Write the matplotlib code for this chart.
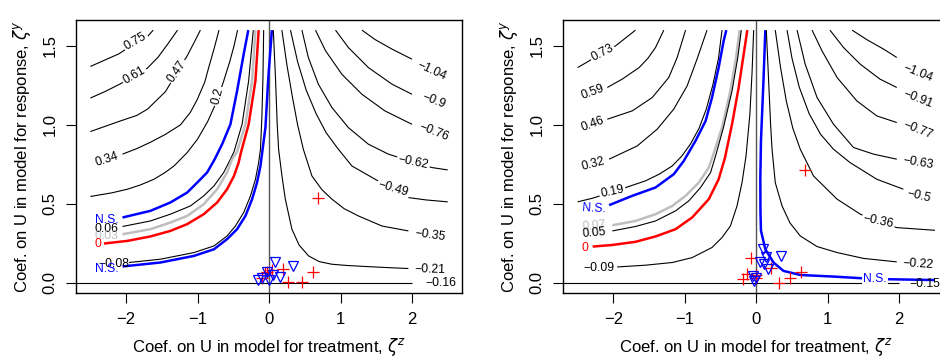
import numpy as np
import matplotlib
matplotlib.use("Agg")
import matplotlib.pyplot as plt

plt.rcParams['font.family'] = ['Liberation Sans', 'DejaVu Sans']

# ---------------- left panel contours (zeta_z, zeta_y) ----------------
L_p075_x = [-2.50, -2.30, -2.10, -1.90, -1.70, -1.62]
L_p075_y = [1.37, 1.41, 1.45, 1.51, 1.56, 1.60]
L_p061_x = [-2.50, -2.30, -2.08, -1.89, -1.70, -1.55, -1.42, -1.28]
L_p061_y = [1.17, 1.21, 1.26, 1.31, 1.36, 1.43, 1.51, 1.60]
L_p047_x = [-2.50, -2.30, -2.08, -1.85, -1.70, -1.45, -1.29, -1.145, -1.05, -0.96]
L_p047_y = [0.958, 0.99, 1.025, 1.06, 1.10, 1.21, 1.33, 1.437, 1.52, 1.60]
L_p034_x = [-2.05, -1.85, -1.66, -1.45, -1.24, -1.10, -1.005, -0.90, -0.84, -0.77, -0.70]
L_p034_y = [0.815, 0.85, 0.89, 0.94, 1.00, 1.08, 1.16, 1.27, 1.37, 1.48, 1.60]
L_p020_x = [-2.50, -2.20, -1.98, -1.80, -1.61, -1.45, -1.33, -1.145, -1.00, -0.86, -0.74, -0.64, -0.55, -0.49, -0.44]
L_p020_y = [0.547, 0.57, 0.593, 0.62, 0.656, 0.70, 0.74, 0.825, 0.91, 1.02, 1.14, 1.27, 1.40, 1.50, 1.60]
L_ns1_x = [-2.05, -1.66, -1.38, -1.145, -1.005, -0.866, -0.76, -0.656, -0.54, -0.447, -0.355, -0.29]
L_ns1_y = [0.414, 0.456, 0.509, 0.572, 0.635, 0.699, 0.783, 0.878, 1.004, 1.215, 1.447, 1.60]
L_p006_x = [-2.05, -1.66, -1.38, -1.10, -0.913, -0.77, -0.634, -0.54, -0.49, -0.377, -0.285, -0.22]
L_p006_y = [0.357, 0.392, 0.435, 0.487, 0.551, 0.614, 0.699, 0.783, 0.83, 1.004, 1.28, 1.60]
L_p003_x = [-2.05, -1.66, -1.38, -1.145, -0.913, -0.726, -0.587, -0.517, -0.447, -0.33, -0.237, -0.19]
L_p003_y = [0.308, 0.34, 0.382, 0.424, 0.498, 0.593, 0.699, 0.783, 0.83, 1.004, 1.28, 1.60]
L_zero_x = [-2.31, -1.98, -1.66, -1.38, -1.145, -0.913, -0.726, -0.587, -0.49, -0.425, -0.39, -0.285, -0.19, -0.145]
L_zero_y = [0.249, 0.266, 0.294, 0.329, 0.372, 0.435, 0.509, 0.593, 0.677, 0.762, 0.83, 1.004, 1.28, 1.60]
L_m008_x = [-1.96, -1.52, -1.05, -0.77, -0.587, -0.47, -0.355, -0.26, -0.19, -0.145, -0.12, -0.10, -0.085, -0.075]
L_m008_y = [0.129, 0.15, 0.192, 0.234, 0.297, 0.36, 0.445, 0.55, 0.656, 0.762, 0.846, 1.05, 1.30, 1.60]
L_ns2_x = [-2.05, -1.52, -1.05, -0.77, -0.587, -0.447, -0.33, -0.237, -0.168, -0.12, -0.05, -0.01, 0.04]
L_ns2_y = [0.104, 0.129, 0.171, 0.213, 0.277, 0.34, 0.424, 0.53, 0.635, 0.74, 0.985, 1.30, 1.60]
L_m021_x = [0.06, 0.09, 0.115, 0.134, 0.18, 0.228, 0.32, 0.42, 0.553, 0.70, 0.88, 1.10, 1.345, 1.65, 1.95]
L_m021_y = [1.60, 1.30, 1.00, 0.846, 0.68, 0.53, 0.34, 0.24, 0.171, 0.135, 0.118, 0.11, 0.104, 0.097, 0.091]
L_m035_x = [0.18, 0.25, 0.33, 0.40, 0.48, 0.60, 0.74, 0.88, 1.05, 1.25, 1.58, 1.95]
L_m035_y = [1.60, 1.38, 1.17, 1.00, 0.846, 0.677, 0.59, 0.53, 0.47, 0.424, 0.36, 0.329]
L_m049_x = [0.30, 0.40, 0.52, 0.66, 0.80, 0.97, 1.16, 1.485, 1.74, 1.95, 2.20, 2.50]
L_m049_y = [1.60, 1.40, 1.22, 1.07, 0.95, 0.846, 0.74, 0.656, 0.595, 0.54, 0.525, 0.513]
L_m062_x = [0.46, 0.55, 0.69, 0.88, 1.11, 1.39, 1.67, 2.02, 2.28, 2.50]
L_m062_y = [1.60, 1.427, 1.258, 1.11, 0.983, 0.878, 0.815, 0.765, 0.73, 0.715]
L_m076_x = [0.65, 0.79, 1.02, 1.30, 1.62, 2.00]
L_m076_y = [1.60, 1.47, 1.32, 1.194, 1.089, 1.004]
L_m090_x = [0.93, 1.11, 1.39, 1.72, 2.00]
L_m090_y = [1.60, 1.49, 1.363, 1.258, 1.194]
L_m104_x = [1.30, 1.485, 1.72, 2.00]
L_m104_y = [1.60, 1.54, 1.48, 1.416]

left_red_x = [0.69, -0.03, 0.20, 0.62, 0.27, 0.46, -0.10, -0.06, 0.04]
left_red_y = [0.54, 0.066, 0.09, 0.07, 0.003, 0.005, 0.034, 0.06, 0.08]
left_blue_x = [0.09, 0.34, -0.15, -0.10, 0.0, 0.16, 0.05, -0.03]
left_blue_y = [0.13, 0.105, 0.02, 0.03, 0.02, 0.035, 0.05, 0.07]

# ---------------- right panel contours ----------------
R_p073_x = [-2.50, -2.34, -2.155, -1.97, -1.83, -1.69]
R_p073_y = [1.363, 1.405, 1.458, 1.50, 1.55, 1.60]
R_p059_x = [-2.085, -1.876, -1.64, -1.52, -1.41, -1.295]
R_p059_y = [1.237, 1.29, 1.363, 1.42, 1.49, 1.60]
R_p046_x = [-2.085, -1.736, -1.457, -1.225, -1.108, -0.99]
R_p046_y = [1.036, 1.089, 1.173, 1.30, 1.426, 1.60]
R_p032_x = [-2.06, -1.666, -1.387, -1.155, -0.968, -0.83, -0.69]
R_p032_y = [0.783, 0.867, 0.973, 1.10, 1.247, 1.416, 1.60]
R_p019_x = [-2.50, -2.30, -2.015, -1.76, -1.55, -1.36, -1.177, -1.04, -0.92, -0.80, -0.70, -0.61, -0.53, -0.48]
R_p019_y = [0.513, 0.535, 0.575, 0.614, 0.646, 0.688, 0.74, 0.804, 0.88, 0.98, 1.10, 1.25, 1.42, 1.60]
R_ns1_x = [-2.06, -1.736, -1.41, -1.155, -1.015, -0.85, -0.71, -0.62, -0.527, -0.457, -0.42]
R_ns1_y = [0.492, 0.551, 0.604, 0.688, 0.772, 0.90, 1.025, 1.173, 1.363, 1.532, 1.60]
R_p007_x = [-2.015, -1.69, -1.41, -1.177, -0.99, -0.805, -0.665, -0.60, -0.48, -0.363, -0.284, -0.233]
R_p007_y = [0.365, 0.392, 0.435, 0.487, 0.551, 0.635, 0.73, 0.815, 0.983, 1.215, 1.426, 1.60]
R_p005_x = [-2.015, -1.69, -1.41, -1.13, -0.945, -0.78, -0.64, -0.57, -0.46, -0.34, -0.26, -0.21]
R_p005_y = [0.329, 0.357, 0.392, 0.456, 0.519, 0.604, 0.699, 0.804, 0.983, 1.215, 1.426, 1.60]
R_zero_x = [-2.29, -2.015, -1.69, -1.41, -1.13, -0.898, -0.665, -0.527, -0.44, -0.34, -0.247, -0.177, -0.126]
R_zero_y = [0.23, 0.24, 0.26, 0.294, 0.34, 0.414, 0.53, 0.656, 0.79, 1.004, 1.237, 1.447, 1.60]
R_m009_x = [-1.946, -1.55, -1.177, -0.898, -0.62, -0.48, -0.363, -0.27, -0.20, -0.145, -0.09, -0.06, -0.037]
R_m009_y = [0.101, 0.112, 0.129, 0.16, 0.224, 0.287, 0.36, 0.487, 0.635, 0.80, 1.068, 1.33, 1.60]
R_ns2_x = [0.126, 0.10, 0.065, 0.056, 0.058, 0.065, 0.126, 0.24, 0.38, 0.615, 1.08, 1.45, 1.66, 1.87, 2.50]
R_ns2_y = [1.60, 1.28, 0.90, 0.66, 0.45, 0.33, 0.213, 0.129, 0.076, 0.05, 0.04, 0.03, 0.025, 0.023, 0.018]
R_m022_x = [0.14, 0.17, 0.20, 0.22, 0.265, 0.36, 0.47, 0.615, 0.85, 1.13, 1.50, 1.965]
R_m022_y = [1.60, 1.30, 1.00, 0.846, 0.635, 0.487, 0.38, 0.297, 0.23, 0.192, 0.155, 0.133]
R_m036_x = [0.265, 0.34, 0.42, 0.51, 0.615, 0.80, 1.13, 1.455, 1.71, 1.965, 2.50]
R_m036_y = [1.60, 1.36, 1.15, 0.98, 0.846, 0.677, 0.53, 0.435, 0.39, 0.35, 0.333]
R_m050_x = [0.43, 0.50, 0.60, 0.74, 0.90, 1.08, 1.31, 1.686, 2.057]
R_m050_y = [1.60, 1.42, 1.24, 1.07, 0.94, 0.846, 0.762, 0.656, 0.593]
R_m063_x = [0.57, 0.684, 0.85, 1.08, 1.36, 1.64, 1.965]
R_m063_y = [1.60, 1.384, 1.173, 1.004, 0.857, 0.815, 0.783]
R_m077_x = [0.78, 0.92, 1.13, 1.406, 1.686, 1.965]
R_m077_y = [1.60, 1.468, 1.30, 1.152, 1.057, 1.015]
R_m091_x = [1.03, 1.22, 1.455, 1.73, 1.965]
R_m091_y = [1.60, 1.49, 1.384, 1.29, 1.237]
R_m104_x = [1.34, 1.545, 1.78, 1.965]
R_m104_y = [1.60, 1.54, 1.48, 1.427]

right_red_x = [0.68, 0.62, 0.47, 0.32, 0.20, -0.08, -0.13, -0.18, 0.0, -0.01]
right_red_y = [0.715, 0.07, 0.028, 0.002, 0.097, 0.16, 0.055, 0.023, 0.03, 0.05]
right_blue_x = [0.09, 0.34, 0.14, 0.05, 0.17, 0.11, -0.04, -0.03, 0.0]
right_blue_y = [0.215, 0.17, 0.165, 0.13, 0.09, 0.12, 0.045, 0.01, 0.03]

BLK, BLUE, RED, GREY = 'black', '#0000ff', '#ff0000', '#bebebe'

left_lines = [
    (L_p075_x, L_p075_y, BLK), (L_p061_x, L_p061_y, BLK), (L_p047_x, L_p047_y, BLK),
    (L_p034_x, L_p034_y, BLK), (L_p020_x, L_p020_y, BLK), (L_ns1_x, L_ns1_y, BLUE),
    (L_p006_x, L_p006_y, BLK), (L_p003_x, L_p003_y, GREY), (L_zero_x, L_zero_y, RED),
    (L_m008_x, L_m008_y, BLK), (L_ns2_x, L_ns2_y, BLUE), (L_m021_x, L_m021_y, BLK),
    (L_m035_x, L_m035_y, BLK), (L_m049_x, L_m049_y, BLK), (L_m062_x, L_m062_y, BLK),
    (L_m076_x, L_m076_y, BLK), (L_m090_x, L_m090_y, BLK), (L_m104_x, L_m104_y, BLK),
]
# text, x, y, rotation, colour, breaks the line
left_labels = [
    ('0.75', -1.87, 1.53, 30, BLK, True), ('0.61', -1.88, 1.31, 30, BLK, True),
    ('0.47', -1.285, 1.34, 55, BLK, True), ('0.34', -2.27, 0.78, 18, BLK, False),
    ('0.2', -0.71, 1.18, 75, BLK, True), ('N.S.', -2.27, 0.395, 0, BLUE, False),
    ('0.06', -2.27, 0.34, 0, BLK, False), ('0.03', -2.27, 0.295, 0, GREY, False),
    ('0', -2.40, 0.245, 0, RED, False), ('\u22120.08', -2.17, 0.12, 0, BLK, False),
    ('N.S.', -2.27, 0.09, 0, BLUE, False),
    ('\u22121.04', 2.27, 1.34, -25, BLK, False), ('\u22120.9', 2.30, 1.15, -22, BLK, False),
    ('\u22120.76', 2.30, 0.955, -22, BLK, False), ('\u22120.62', 2.02, 0.765, -12, BLK, True),
    ('\u22120.49', 1.74, 0.595, -17, BLK, True), ('\u22120.35', 2.25, 0.305, -8, BLK, False),
    ('\u22120.21', 2.25, 0.085, -2, BLK, False), ('\u22120.16', 2.40, 0.0, 0, BLK, False),
]

right_lines = [
    (R_p073_x, R_p073_y, BLK), (R_p059_x, R_p059_y, BLK), (R_p046_x, R_p046_y, BLK),
    (R_p032_x, R_p032_y, BLK), (R_p019_x, R_p019_y, BLK), (R_ns1_x, R_ns1_y, BLUE),
    (R_p007_x, R_p007_y, GREY), (R_p005_x, R_p005_y, BLK), (R_zero_x, R_zero_y, RED),
    (R_m009_x, R_m009_y, BLK), (R_ns2_x, R_ns2_y, BLUE), (R_m022_x, R_m022_y, BLK),
    (R_m036_x, R_m036_y, BLK), (R_m050_x, R_m050_y, BLK), (R_m063_x, R_m063_y, BLK),
    (R_m077_x, R_m077_y, BLK), (R_m091_x, R_m091_y, BLK), (R_m104_x, R_m104_y, BLK),
]
right_labels = [
    ('0.73', -2.155, 1.458, 28, BLK, True), ('0.59', -2.29, 1.205, 20, BLK, False),
    ('0.46', -2.29, 1.004, 20, BLK, False), ('0.32', -2.28, 0.751, 15, BLK, False),
    ('0.19', -2.015, 0.58, 12, BLK, True), ('N.S.', -2.27, 0.471, -3, BLUE, False),
    ('0.07', -2.27, 0.36, 5, GREY, False), ('0.05', -2.27, 0.315, 5, BLK, False),
    ('0', -2.40, 0.224, 0, RED, False), ('\u22120.09', -2.20, 0.097, 0, BLK, False),
    ('N.S.', 1.66, 0.025, 0, BLUE, True),
    ('\u22121.04', 2.26, 1.33, -22, BLK, False), ('\u22120.91', 2.26, 1.165, -22, BLK, False),
    ('\u22120.77', 2.26, 0.97, -22, BLK, False), ('\u22120.63', 2.26, 0.762, -10, BLK, False),
    ('\u22120.5', 2.28, 0.551, -14, BLK, False), ('\u22120.36', 1.71, 0.392, -12, BLK, True),
    ('\u22120.22', 2.26, 0.118, -4, BLK, False), ('\u22120.15', 2.36, -0.008, 0, BLK, False),
]


def draw_panel(ax, lines, labels, red_x, red_y, blue_x, blue_y):
    ax.set_xlim(-2.7, 2.7)
    ax.set_ylim(-0.064, 1.664)
    for xs, ys, col in lines:
        lw = 0.8 if col == BLK else 1.8
        ax.plot(xs, ys, color=col, lw=lw, solid_capstyle='butt', zorder=2)
    # reference lines at zero (the y = 0 line is also the naive-estimate contour)
    ax.hlines(0, -2.7, 2.0, color='black', lw=0.8, zorder=2)
    ax.axvline(0, color='#555555', lw=1.0, zorder=1)
    for txt, x, y, rot, col, gap in labels:
        kw = {}
        if gap:
            kw['bbox'] = dict(boxstyle='square,pad=0.12', fc='white', ec='none')
        ax.text(x, y, txt, rotation=rot, color=col, fontsize=8.7,
                ha='center', va='center', rotation_mode='anchor', zorder=3, **kw)
    ax.plot(red_x, red_y, ls='none', marker='+', ms=8, mew=0.9, color=RED, zorder=4)
    ax.plot(blue_x, blue_y, ls='none', marker='v', ms=7, mew=0.9, mfc='none',
            mec=BLUE, zorder=4)

    ax.set_xticks([-2, -1, 0, 1, 2])
    ax.set_yticks([0.0, 0.5, 1.0, 1.5])
    ax.set_yticklabels(['0.0', '0.5', '1.0', '1.5'], rotation=90, va='center')
    ax.tick_params(direction='out', length=7.5, width=0.8, labelsize=12, pad=6)
    for s in ax.spines.values():
        s.set_linewidth(1.0)
    ax.set_xlabel(r'Coef. on U in model for treatment, $\zeta^z$', fontsize=12, labelpad=7)
    ax.set_ylabel(r'Coef. on U in model for response, $\zeta^y$', fontsize=12, labelpad=7)


fig = plt.figure(figsize=(9.4, 3.6), dpi=100)
ax1 = fig.add_axes([0.0809, 0.1861, 0.4106, 0.7583])
ax2 = fig.add_axes([0.5993, 0.1861, 0.4106, 0.7583])
draw_panel(ax1, left_lines, left_labels, left_red_x, left_red_y, left_blue_x, left_blue_y)
draw_panel(ax2, right_lines, right_labels, right_red_x, right_red_y, right_blue_x, right_blue_y)

fig.savefig('out.png', dpi=100)
